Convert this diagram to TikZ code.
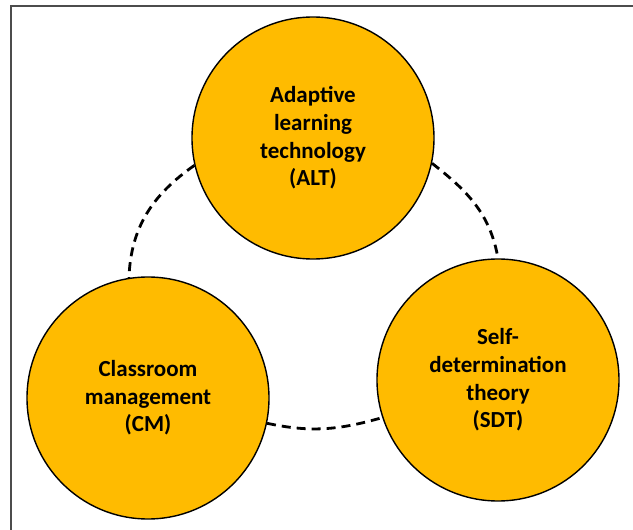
\documentclass[tikz,border=0pt]{standalone}
\usepackage{fontspec}
\setmainfont{Carlito}
\definecolor{gold}{HTML}{FFBB00}
\begin{document}
\begin{tikzpicture}[x=1pt,y=-1pt,
  topic/.style={circle,draw=black,line width=1.4pt,fill=gold,minimum size=242pt,inner sep=0pt,
    align=center,font=\bfseries\fontsize{23}{27.6}\selectfont},
  link/.style={draw=black,line width=2.8pt,dash pattern=on 9pt off 6pt}]
\useasboundingbox (0,0) rectangle (633,530);
\draw[line width=1.2pt,gray!60!black] (11,530) -- (11,6) -- (633,6);
\node[topic] (alt) at (313,138) {Adaptive\\learning\\technology\\(ALT)};
\node[topic] (cm)  at (148,398) {Classroom\\management\\(CM)};
\node[topic] (sdt) at (498,380) {Self-\\determination\\theory\\(SDT)};
\draw[link] (alt.193) to[out=215,in=88] (cm.99);
\draw[link] (alt.-12) to[out=-38,in=100] (sdt.90);
\draw[link] (cm.-12) to[out=-12,in=196] (sdt.198);
\end{tikzpicture}
\end{document}
